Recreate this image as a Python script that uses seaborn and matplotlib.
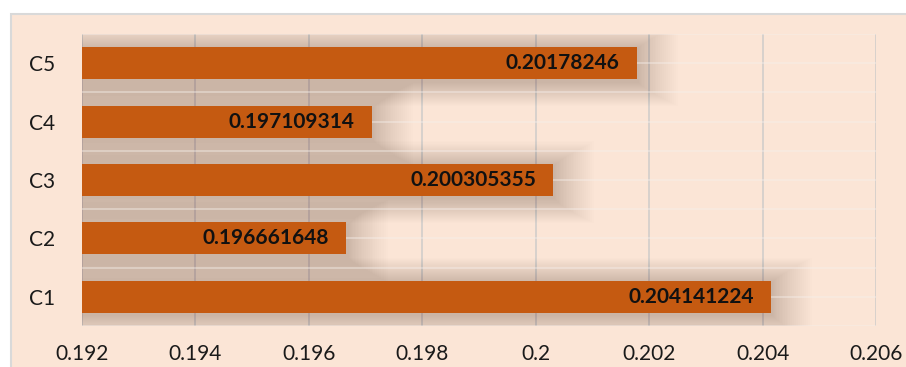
import numpy as np
import pandas as pd
import matplotlib
matplotlib.use("Agg")
import matplotlib.pyplot as plt
from matplotlib.patches import Rectangle
import seaborn as sns

# Data
categories = ["C5", "C4", "C3", "C2", "C1"]
values = [0.20178246, 0.197109314, 0.200305355, 0.196661648, 0.204141224]
value_labels = ["0.20178246", "0.197109314", "0.200305355", "0.196661648", "0.204141224"]
x_ticks = [0.192, 0.194, 0.196, 0.198, 0.2, 0.202, 0.204, 0.206]
x_tick_labels = ["0.192", "0.194", "0.196", "0.198", "0.2", "0.202", "0.204", "0.206"]

BAR_COLOR = "#C55A11"
BG_COLOR = "#FBE5D6"
GRID_COLOR = "#D2CECB"
TEXT_COLOR = "#1A1A1A"

sns.set_theme(style="white")
plt.rcParams["font.family"] = ["Lato", "DejaVu Sans"]

df = pd.DataFrame({"category": categories, "value": values})

W, H, DPI = 906, 367, 100
fig = plt.figure(figsize=(W / DPI, H / DPI), dpi=DPI, facecolor="white")

# Chart area panel with thin grey border
panel = Rectangle((11 / W, -0.05), 1.0, 1 - 14 / H + 0.05,
                  transform=fig.transFigure, facecolor=BG_COLOR,
                  edgecolor="#D9D9D9", linewidth=1.5, zorder=-10)
fig.add_artist(panel)

ax = fig.add_axes([82 / W, 1 - 326 / H, (876 - 82) / W, (326 - 34) / H])
ax.set_facecolor("none")
ax.set_zorder(1)

bar_h = 0.55

# Soft drop shadow behind the bars, built up from stacked translucent bars
n_layers = 24
for k in range(n_layers):
    t = (k + 1) / n_layers
    ax.barh(np.arange(len(categories)) + 0.04,
            np.array(values) + 0.00003 + 0.0007 * t ** 1.3,
            height=bar_h + 0.85 * t, color="#6B4A38", alpha=0.013,
            linewidth=0, zorder=1)

# Faint light horizontal streaks across the plot area
for y in np.arange(-0.5, len(categories), 0.5):
    ax.axhline(y, color="#F6F0EC", linewidth=1.3, alpha=0.45, zorder=1.5)

sns.barplot(data=df, x="value", y="category", order=categories, orient="h",
            color=BAR_COLOR, saturation=1, width=bar_h, ax=ax, zorder=3,
            linewidth=0)

for i, (v, lab) in enumerate(zip(values, value_labels)):
    ax.annotate(lab, xy=(v, i), xytext=(-17, 0), textcoords="offset pixels",
                ha="right", va="center", fontsize=15, fontweight="bold",
                color="#111111", zorder=4)

ax.set_xlim(x_ticks[0], x_ticks[-1])
ax.set_ylim(len(categories) - 0.5, -0.5)
ax.set_xticks(x_ticks)
ax.set_xticklabels(x_tick_labels)
ax.xaxis.grid(True, color=GRID_COLOR, linewidth=1.2, zorder=2)
ax.yaxis.grid(False)
ax.set_axisbelow(True)
for sp in ax.spines.values():
    sp.set_visible(False)
ax.tick_params(axis="x", length=0, pad=13, labelsize=15, labelcolor=TEXT_COLOR)
ax.tick_params(axis="y", length=0, pad=19, labelsize=15, labelcolor=TEXT_COLOR)
ax.set_xlabel("")
ax.set_ylabel("")

fig.savefig("out.png", dpi=DPI, facecolor="white")
